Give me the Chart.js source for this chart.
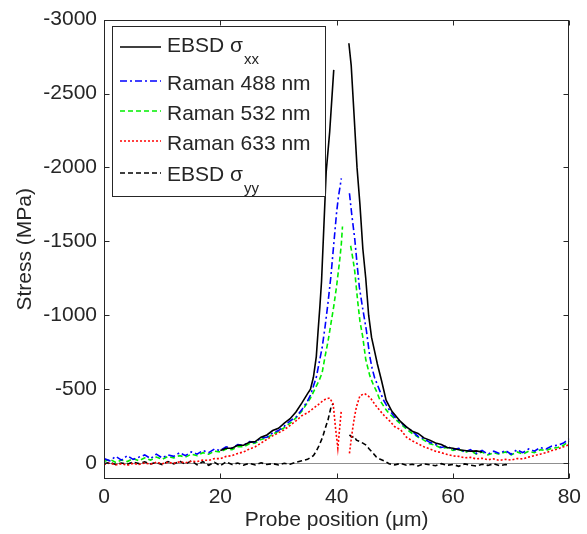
<!DOCTYPE html>
<html>
<head>
<meta charset="utf-8">
<script src="https://cdn.jsdelivr.net/npm/chart.js@4.4.0/dist/chart.umd.min.js"></script>
<style>
  html, body { margin: 0; padding: 0; background: #fff; }
  canvas { display: block; }
</style>
</head>
<body>
<canvas id="myChart" width="587" height="534"></canvas>
<script>
// axis ticks
let xTicks = [0, 20, 40, 60, 80];
let yTicks = [-3000, -2500, -2000, -1500, -1000, -500, 0];

// legend text
let names = ['EBSD σ', 'Raman 488 nm', 'Raman 532 nm', 'Raman 633 nm', 'EBSD σ'];
let subs = ['xx', '', '', '', 'yy'];

// EBSD sigma xx (null = gap at the interface)
let xxX = [20,21,22,23,24,25,26,27,28,29,30,31,32,33,34,35,
  35.5,36,36.5,36.8,37.1,37.4,37.8,38.2,38.8,39.5, 40.8,
  42.1,42.5,43,43.5,44,44.5,45,45.5,46,46.5,47,47.7,48.5,49.5,
  51,52,53,54,55,56,57,58,59,60,61,62,63,64,65];
let xxY = [-85,-100,-100,-120,-120,-140,-145,-175,-190,-220,-235,-270,-300,-345,-405,-470,
  -500,-580,-720,-890,-1050,-1230,-1600,-1970,-2240,-2660, null,
  -2840,-2690,-2350,-2000,-1750,-1450,-1250,-1000,-850,-760,-670,-560,-425,-350,
  -280,-245,-215,-200,-170,-155,-135,-125,-105,-100,-90,-85,-80,-82,-75];

// Raman 488 nm
let r488X = [0,1,2,3,4,5,6,7,8,9,10,11,12,13,14,15,16,17,18,19,20,21,22,23,24,25,26,27,28,29,30,31,32,33,34,35,
  35.5,36,36.5,37,37.5,38,38.5,39,39.5,40,40.3,40.8, 41.5,
  42.2,42.6,43.1,43.5,43.9,44.5,45.1,45.7,46.1,46.5,47,47.4,48,48.5,49.1,
  50,51,52,53,54,55,56,57,58,59,60,61,62,63,64,65,66,67,68,69,70,71,72,73,74,75,76,77,78,79,80];
let r488Y = [-30,-15,-45,-20,-50,-25,-40,-55,-30,-60,-35,-55,-45,-70,-50,-75,-60,-85,-70,-95,-85,-110,-100,-125,-120,-145,-140,-170,-175,-205,-220,-250,-285,-310,-360,-420,
  -460,-520,-580,-680,-780,-920,-1080,-1260,-1480,-1700,-1800,-1925, null,
  -1825,-1680,-1520,-1350,-1190,-1040,-900,-720,-640,-580,-530,-490,-430,-395,-356,
  -310,-275,-242,-215,-180,-165,-140,-125,-105,-115,-90,-100,-75,-90,-65,-85,-60,-80,-65,-85,-60,-90,-70,-95,-80,-105,-95,-115,-120,-135,-165];

// Raman 532 nm
let r532X = [0,1,2,3,4,5,6,7,8,9,10,11,12,13,14,15,16,17,18,19,20,21,22,23,24,25,26,27,28,29,30,31,32,33,34,35,
  35.5,36,36.5,37,37.5,38,38.5,39,39.5,40,40.5,40.8,41, 41.7,
  42.4,42.8,43.1,43.6,44,44.5,45,45.7,46.3,46.8,47.5,48.5,49,
  50,51,52,53,54,55,56,57,58,59,60,61,62,63,64,65,66,67,68,69,70,71,72,73,74,75,76,77,78,79,80];
let r532Y = [-10,-25,-5,-20,-10,-30,-15,-35,-20,-40,-25,-45,-35,-50,-40,-60,-50,-70,-60,-80,-75,-95,-90,-110,-110,-130,-135,-160,-170,-195,-215,-240,-270,-305,-350,-410,
  -440,-480,-520,-560,-610,-720,-820,-940,-1060,-1200,-1365,-1480,-1600, null,
  -1470,-1380,-1300,-1100,-960,-850,-700,-590,-530,-490,-420,-360,-335,
  -300,-265,-230,-200,-175,-155,-130,-120,-100,-105,-85,-95,-70,-85,-60,-75,-55,-70,-60,-75,-55,-75,-60,-80,-70,-90,-85,-100,-105,-120,-150];

// Raman 633 nm
let r633X = [0,1,2,3,4,5,6,7,8,9,10,11,12,13,14,15,16,17,18,19,20,21,22,23,24,25,26,27,28,29,30,31,32,33,34,35,36,37,
  37.6,38.2,38.8,39.4,39.8,40.2,40.5,40.8, 41.5,
  42.2,42.5,42.8,43.1,43.4,44,44.8,45.4,45.9,46.6,47.4,48.2,49.1,
  50,51,52,53,54,55,56,57,58,59,60,61,62,63,64,65,66,67,68,69,70,71,72,73,74,75,76,77,78,79,80];
let r633Y = [10,0,12,5,15,2,10,0,8,-5,5,-5,2,-8,-2,-12,-10,-20,-18,-30,-30,-45,-50,-65,-75,-95,-110,-135,-160,-185,-205,-225,-255,-285,-320,-340,-370,-400,
  -420,-435,-440,-400,-240,-100,-230,-356, null,
  -65,-160,-245,-320,-380,-455,-470,-455,-435,-395,-356,-320,-285,
  -245,-225,-175,-150,-130,-110,-95,-80,-70,-58,-48,-45,-35,-38,-28,-32,-22,-28,-18,-25,-20,-30,-28,-40,-50,-60,-70,-85,-95,-110,-125];

// EBSD sigma yy
let yyX = [0,1,2,3,4,5,6,7,8,9,10,11,12,13,14,15,16,17,18,19,20,21,22,23,24,25,26,27,28,29,30,31,32,33,34,35,
  36,36.5,37,37.6,38,38.5,39.1,39.4, 40.8,
  42.2,42.6,43,43.4,44,44.5,45.1,45.6,46.2,46.8,47.5,48.5,
  49,50,51,52,53,54,55,56,57,58,59,60,61,62,63,64,65,66,67,68,69,69.7];
let yyY = [5,-5,10,0,8,-6,4,-8,6,-4,10,-10,5,-12,8,-15,12,-10,15,-5,18,-8,10,0,14,2,12,-2,10,4,12,2,8,-5,-15,-25,
  -50,-80,-120,-177,-230,-290,-390,-400, null,
  -190,-175,-180,-155,-145,-135,-120,-95,-70,-42,-25,-8,
  5,12,3,15,8,20,5,12,18,4,15,10,22,6,14,20,8,16,5,18,10,15];

let font = '"Liberation Sans", Arial, Helvetica, sans-serif';
let ink = '#262626';

function pts(xs, ys) {
    return xs.map((x, i) => ({x: x, y: ys[i]}));
}

// box, inward ticks and the legend, like the matlab figure
let matlabLook = {
    id: 'matlabLook',
    afterDatasetsDraw(chart) {
        let ctx = chart.ctx;
        let a = chart.chartArea;
        let sx = chart.scales.x, sy = chart.scales.y;
        let l = Math.round(a.left) + 0.5, r = Math.round(a.right) - 0.5;
        let t = Math.round(a.top) + 0.5, b = Math.round(a.bottom) - 0.5;
        ctx.save();
        ctx.strokeStyle = ink;
        ctx.lineWidth = 1;
        ctx.strokeRect(l, t, r - l, b - t);
        ctx.beginPath();
        xTicks.forEach(v => {
            let px = Math.round(sx.getPixelForValue(v)) + 0.5;
            ctx.moveTo(px, b); ctx.lineTo(px, b - 5);
            ctx.moveTo(px, t); ctx.lineTo(px, t + 5);
        });
        yTicks.forEach(v => {
            let py = Math.round(sy.getPixelForValue(v)) + 0.5;
            ctx.moveTo(l, py); ctx.lineTo(l + 5, py);
            ctx.moveTo(r, py); ctx.lineTo(r - 5, py);
        });
        ctx.stroke();
        ctx.restore();
    },
    afterDraw(chart) {
        let ctx = chart.ctx;
        let lineY = [47, 81, 111, 141, 173];
        let textY = [46, 84, 114, 144, 175];
        ctx.save();
        ctx.fillStyle = '#fff';
        ctx.fillRect(112, 26, 214, 171);
        ctx.strokeStyle = ink;
        ctx.lineWidth = 1;
        ctx.strokeRect(112.5, 26.5, 213, 170);
        chart.data.datasets.forEach((ds, i) => {
            ctx.strokeStyle = ds.borderColor;
            ctx.lineWidth = ds.borderWidth;
            ctx.setLineDash(ds.borderDash);
            ctx.beginPath();
            ctx.moveTo(120, lineY[i]);
            ctx.lineTo(161, lineY[i]);
            ctx.stroke();
            ctx.setLineDash([]);
            ctx.fillStyle = ink;
            ctx.textBaseline = 'middle';
            ctx.font = '21px ' + font;
            ctx.fillText(names[i], 167, textY[i]);
            if (subs[i]) {
                let w = ctx.measureText(names[i]).width;
                ctx.font = '15px ' + font;
                ctx.fillText(subs[i], 167 + w + 1, textY[i] + 14);
            }
        });
        ctx.restore();
    }
};

let myChart = document.getElementById('myChart').getContext('2d');

let chart1 = new Chart(myChart, {
    type: 'line',
    data: {
        datasets: [
            {
                label: 'EBSD σxx',
                data: pts(xxX, xxY),
                borderColor: '#000000',
                borderWidth: 1.6,
                borderDash: []
            },
            {
                label: 'Raman 488 nm',
                data: pts(r488X, r488Y),
                borderColor: '#0000ff',
                borderWidth: 1.6,
                borderDash: [7, 3, 2, 3]
            },
            {
                label: 'Raman 532 nm',
                data: pts(r532X, r532Y),
                borderColor: '#00ee00',
                borderWidth: 1.6,
                borderDash: [5, 3]
            },
            {
                label: 'Raman 633 nm',
                data: pts(r633X, r633Y),
                borderColor: '#ff0000',
                borderWidth: 1.6,
                borderDash: [2, 2]
            },
            {
                label: 'EBSD σyy',
                data: pts(yyX, yyY),
                borderColor: '#000000',
                borderWidth: 1.6,
                borderDash: [5, 3]
            }
        ]
    },
    options: {
        responsive: false,
        animation: false,
        devicePixelRatio: 1,
        spanGaps: false,
        layout: { padding: { top: 17, right: 17, left: 0, bottom: 0 } },
        elements: { point: { radius: 0 }, line: { tension: 0 } },
        plugins: { legend: { display: false }, tooltip: { enabled: false } },
        scales: {
            x: {
                type: 'linear',
                min: 0,
                max: 80,
                afterBuildTicks: s => { s.ticks = xTicks.map(v => ({ value: v })); },
                afterFit: s => { s.height = 55; },
                grid: { display: false, drawTicks: false },
                border: { display: false },
                ticks: {
                    color: ink,
                    font: { family: font, size: 21 },
                    padding: 6,
                    maxRotation: 0,
                    callback: v => String(v)
                },
                title: {
                    display: true,
                    text: 'Probe position (μm)',
                    color: ink,
                    font: { family: font, size: 21 },
                    padding: { top: 0, bottom: 1 }
                }
            },
            y: {
                type: 'linear',
                min: -3000,
                max: 108,
                reverse: true,
                afterBuildTicks: s => { s.ticks = yTicks.map(v => ({ value: v })); },
                afterFit: s => { s.width = 104; },
                grid: {
                    drawTicks: false,
                    color: c => (c.tick && c.tick.value === 0) ? '#8f8f8f' : 'rgba(0,0,0,0)',
                    lineWidth: 1
                },
                border: { display: false },
                ticks: {
                    color: ink,
                    font: { family: font, size: 21 },
                    padding: 7,
                    callback: v => String(v)
                },
                title: {
                    display: true,
                    text: 'Stress (MPa)',
                    color: ink,
                    font: { family: font, size: 21 },
                    padding: { top: 13, bottom: 0 }
                }
            }
        }
    },
    plugins: [matlabLook]
});
</script>
</body>
</html>
